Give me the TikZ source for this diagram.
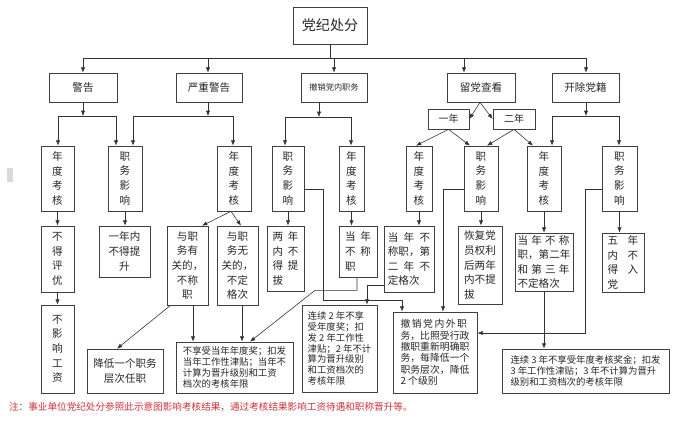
\documentclass[tikz,border=0pt]{standalone}
\usepackage{fontspec}
\setmainfont{Noto Sans CJK SC}
\usetikzlibrary{arrows.meta,calc}
\definecolor{notered}{RGB}{205,50,55}
\newcommand{\gp}{\hspace{0.45em}}
\newcommand{\gpw}{\hspace{0.9em}}
\tikzset{
	box/.style 2 args={draw=black!75, line width=0.6pt, inner sep=0pt,
		minimum width=#1*0.03cm, minimum height=#2*0.03cm, align=center,
		text=black!85, font=\fontsize{9}{12.5}\selectfont},
	smalltext/.style={align=left, font=\fontsize{8}{9.3}\selectfont},
	lefttext/.style={align=left},
	link/.style={draw=black!80, line width=0.5pt},
}

\begin{document}
\begin{tikzpicture}[x=0.03cm, y=-0.03cm, >={Latex[length=4.5pt,width=3.6pt]}]
	\useasboundingbox (0,0) rectangle (674,421);
	\fill[gray!30] (7,168) rectangle (13,182);
	% title and the five kinds
	\node[box={74}{37}, font=\fontsize{12}{14}\selectfont] (T) at (330,25.5) {党纪处分};
	\node[box={68}{29}] (W) at (83,87.5) {警告};
	\node[box={66}{29}] (SW) at (209,87.5) {严重警告};
	\node[box={66}{29}, font=\fontsize{7}{8}\selectfont] (RP) at (334,87.5) {撤销党内职务};
	\node[box={68}{29}] (OB) at (481,87.5) {留党查看};
	\node[box={67}{29}] (EX) at (585.5,87.5) {开除党籍};
	\node[box={41}{20}, font=\fontsize{8.5}{10}\selectfont] (Y1) at (448.5,119) {一年};
	\node[box={42}{20}, font=\fontsize{8.5}{10}\selectfont] (Y2) at (514,119) {二年};
	%
	% row of assessment / post boxes
	\node[box={33}{65}] (W1) at (57.5,178.5) {年\\度\\考\\核};
	\node[box={34}{65}] (W2) at (125,178.5) {职\\务\\影\\响};
	\node[box={34}{65}] (SW1) at (234,178.5) {年\\度\\考\\核};
	\node[box={32}{65}] (RP1) at (288,178.5) {职\\务\\影\\响};
	\node[box={25}{65}] (RP2) at (351.5,178.5) {年\\度\\考\\核};
	\node[box={26}{65}] (OB1) at (419,178.5) {年\\度\\考\\核};
	\node[box={34}{65}] (OB2) at (481,178.5) {职\\务\\影\\响};
	\node[box={34}{65}] (OB3) at (544,178.5) {年\\度\\考\\核};
	\node[box={35}{65}] (EX1) at (619.5,178.5) {职\\务\\影\\响};
	%
	% first results
	\node[box={33}{66}] (W1a) at (57.5,259) {不\\得\\评\\优};
	\node[box={51}{51}] (W2a) at (124.5,251.5) {一年内\\不得提\\升};
	\node[box={41}{79}] (SW1a) at (187.5,265.5) {与职\\务有\\关的，\\不称\\职};
	\node[box={41}{79}] (SW1b) at (237.5,265.5) {与职\\务无\\关的，\\不定\\格次};
	\node[box={37}{65}, lefttext] (RP1a) at (285.5,258.5) {两\gp 年\\内\gp 不\\得\gp 提\\拔};
	\node[box={38}{51}, lefttext] (RP2a) at (358,251.5) {当\gp 年\\不\gp 称\\职};
	\node[box={50}{66}, lefttext] (OB1a) at (409,259) {当\hspace{0.5em}年\hspace{0.5em}不\\称职，第\\二\hspace{0.5em}年\hspace{0.5em}不\\定格次};
	\node[box={44}{78}, lefttext] (OB2a) at (480,265) {恢复党\\员权利\\后两年\\内不提\\拔};
	\node[box={58}{58}, lefttext] (OB3a) at (544,262) {当\hspace{0.3em}年\hspace{0.3em}不\hspace{0.3em}称\\职，第二年\\和\hspace{0.3em}第\hspace{0.3em}三\hspace{0.3em}年\\不定格次};
	\node[box={42}{59}, lefttext] (EX1a) at (623,262.5) {五\gpw 年\\内\gpw 不\\得\gpw 入\\党};
	%
	% final results
	\node[box={33}{88}] (W1b) at (57.5,349) {不\\影\\响\\工\\资};
	\node[box={76}{44}] (SWc) at (125,371) {降低一个职务\\层次任职};
	\node[box={117}{51}, smalltext] (SWd) at (234.5,367.5) {不享受当年年度奖；扣发\\当年工作性津贴；当年不\\计算为晋升级别和工资\\档次的考核年限};
	\node[box={75}{87}, smalltext] (RPB) at (339.5,348.5) {连续 2 年不享\\受年度奖；扣\\发 2 年工作性\\津贴；2 年不计\\算为晋升级别\\和工资档次的\\考核年限};
	\node[box={84}{81}, smalltext, font=\fontsize{8.4}{9.7}\selectfont] (RPX) at (435,352.5) {撤\hspace{0.15em}销\hspace{0.15em}党\hspace{0.15em}内\hspace{0.15em}外\hspace{0.15em}职\\务，比照受行政\\撤职重新明确职\\务，每降低一个\\职务层次，降低\\2 个级别};
	\node[box={167}{44}, smalltext] (EXL) at (585.5,371) {连续 3 年不享受年度考核奖金；扣发\\3 年工作性津贴；3 年不计算为晋升\\级别和工资档次的考核年限};
	%
	\node[anchor=west, text=notered, font=\fontsize{8.2}{10}\selectfont] (note) at (5,407)
		{注：事业单位党纪处分参照此示意图影响考核结果，通过考核结果影响工资待遇和职称晋升等。};
	%
	% junction points
	\coordinate (t0) at (330,58);
	\coordinate (ta) at (83,58);
	\coordinate (tb) at (208,58);
	\coordinate (tc) at (334,58);
	\coordinate (td) at (464,58);
	\coordinate (te) at (586,58);
	\coordinate (wa) at (83,116);
	\coordinate (wb1) at (58,116);
	\coordinate (wb2) at (116,116);
	\coordinate (sa) at (208,116);
	\coordinate (sb1) at (133,116);
	\coordinate (sb2) at (233,116);
	\coordinate (ra) at (319,117);
	\coordinate (rb1) at (285,117);
	\coordinate (rb2) at (351,117);
	\coordinate (ea) at (586,116);
	\coordinate (eb1) at (552,116);
	\coordinate (eb2) at (619,116);
	%
	\begin{scope}[link]
		% from the title
		\draw (T) -- (t0);
		\draw (ta) -- (te);
		\foreach \c/\n in {ta/W,tb/SW,tc/RP,td/OB,te/EX}
			\draw[->] (\c) -- (\c |- \n.north);
		% second level buses
		\draw[->] (wa |- W.south) -- (wa);
		\draw[->] (sa |- SW.south) -- (sa);
		\draw[->] (ra |- RP.south) -- (ra);
		\draw[->] (ea |- EX.south) -- (ea);
		\draw (wb1) -- (wb2);
		\draw (sb1) -- (sb2);
		\draw (rb1) -- (rb2);
		\draw (eb1) -- (eb2);
		\foreach \c/\n in {wb1/W1,wb2/W2,sb1/W2,sb2/SW1,rb1/RP1,rb2/RP2,eb1/OB3,eb2/EX1}
			\draw[->] (\c) -- (\c |- \n.north);
		% one year, two years
		\draw[->] ($(OB.south)+(-1,0)$) -- (Y1.east);
		\draw[->] ($(OB.south)+(-1,0)$) -- (Y2.west);
		\draw[->] (Y1.south) -- ($(OB1.north)+(-3,0)$);
		\draw[->] (Y1.south) -- ($(OB2.north)+(-11,0)$);
		\draw[->] (Y2.south) -- ($(OB2.north)+(6,0)$);
		\draw[->] (Y2.south) -- ($(OB3.north)+(-11,0)$);
		% down to the first results
		\draw[->] (W1) -- (W1a);
		\draw[->] (W2.south) -- (W2.south |- W2a.north);
		\draw[->] ($(SW1.south)+(-3,0)$) -- ($(SW1a.north)+(14.5,0)$);
		\draw[->] ($(SW1.south)+(-3,0)$) -- ($(SW1b.north)+(3.5,0)$);
		\foreach \n in {RP1,RP2,OB1,OB2,OB3,EX1}
			\draw[->] (\n.south) -- (\n.south |- \n a.north);
		% down to the final results
		\draw[->] (W1a) -- (W1b);
		\draw[->] ($(SW1a.south)+(-17,0)$) -- ($(SWc.north)+(-8,0)$);
		\draw[->] ($(SW1a.south)+(5.5,0)$) coordinate (p1) -- (p1 |- SWd.north);
		\draw[->] ($(SW1b.south)+(4.5,0)$) coordinate (p2) -- (p2 |- SWd.north);
		\draw[->] ($(RP2a.south)+(-1,0)$) -- ++(0,13) -- ++(-42,0) -- ($(SWd.north)+(15.5,0)$);
		\draw[->] ($(RP1.east)+(0,10.5)$) -- ++(19,0) -- ++(0,111) -| ($(RPX.north)+(-33,0)$);
		\draw[->] ($(OB1a.west)+(0,26)$) -| ($(RPB.north)+(27.5,0)$);
		\draw[->] ($(OB2.west)+(0,10.5)$) -| ($(RPX.north)+(8,0)$);
		\draw[->] ($(EX1.west)+(0,10.5)$) -- ++(-16,0) |- ($(RPX.east)+(0,-19.5)$);
		\draw[->] (OB3a.south) -- (OB3a.south |- EXL.north);
	\end{scope}
\end{tikzpicture}
\end{document}
